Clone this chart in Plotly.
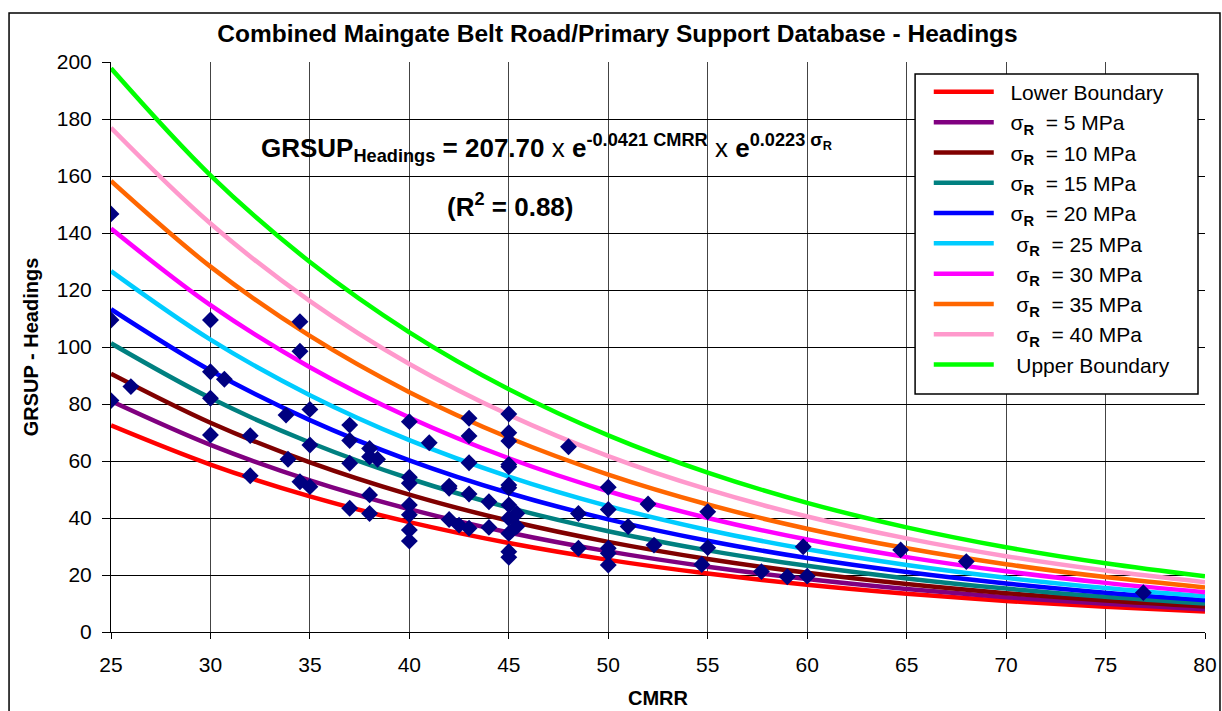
import plotly.graph_objects as go

# fitted curves (GRSUP vs CMRR for each sigma_R)
cmrr_curve = [25, 30, 35, 40, 45, 50, 55, 60, 65, 70, 75, 80]
lower_boundary = [72.50, 58.74, 47.59, 38.55, 31.23, 25.30, 20.50, 16.61, 13.46, 10.90, 8.83, 7.16]
sig_5 = [81.05, 65.67, 53.20, 43.10, 34.91, 28.28, 22.92, 18.57, 15.05, 12.19, 9.87, 8.00]
sig_10 = [90.61, 73.41, 59.48, 48.18, 39.03, 31.62, 25.62, 20.76, 16.82, 13.62, 11.04, 8.95]
sig_15 = [101.30, 82.07, 66.49, 53.86, 43.64, 35.35, 28.64, 23.21, 18.81, 15.23, 12.34, 10.00]
sig_20 = [113.25, 91.76, 74.34, 60.22, 48.78, 39.52, 32.02, 25.95, 21.03, 17.03, 13.79, 11.18]
sig_25 = [126.61, 102.58, 83.11, 67.32, 54.54, 44.18, 35.80, 29.01, 23.51, 19.03, 15.42, 12.50]
sig_30 = [141.54, 114.68, 92.91, 75.26, 60.97, 49.39, 40.02, 32.43, 26.28, 21.28, 17.24, 13.98]
sig_35 = [158.24, 128.20, 103.87, 84.14, 68.16, 55.22, 44.74, 36.25, 29.38, 23.79, 19.27, 15.63]
sig_40 = [176.90, 143.32, 116.12, 94.06, 76.20, 61.73, 50.02, 40.53, 32.84, 26.60, 21.55, 17.47]
upper_boundary = [197.77, 160.23, 129.82, 105.16, 85.19, 69.01, 55.92, 45.31, 36.72, 29.73, 24.09, 19.53]

# database points
cmrr_pts = [25, 25, 25, 26, 30, 30, 30, 30, 30.7, 32, 32, 33.8, 33.9, 34.5, 34.5, 34.5, 35, 35, 35,
            37, 37, 37, 37, 38, 38, 38, 38, 38.4, 40, 40, 40, 40, 40, 40, 40, 41, 42, 42, 42, 42.5,
            43, 43, 43, 43, 43, 44, 44, 45, 45, 45, 45, 45, 45, 45, 45, 45, 45, 45, 45, 45.4, 45.4,
            48, 48.5, 48.5, 50, 50, 50, 50, 50, 51, 52, 52.3, 54.7, 55, 55, 57.7, 59, 59.8, 60,
            64.7, 68, 76.9]
grsup_pts = [146.7, 109.5, 81.2, 86.1, 109.5, 91.3, 82.0, 69.1, 88.7, 68.9, 54.8, 76.1, 60.6, 108.9, 98.5, 52.7, 78.1, 65.6, 51.0,
             72.6, 67.2, 59.2, 43.4, 64.4, 61.5, 48.1, 41.6, 60.6, 73.8, 54.3, 52.2, 44.6, 41.1, 35.8, 31.9, 66.4, 51.2, 50.4, 39.5, 37.5,
             75.0, 68.8, 59.4, 48.4, 36.4, 45.7, 36.7, 76.5, 69.9, 67.0, 58.8, 58.0, 51.6, 50.6, 44.6, 39.9, 34.6, 28.2, 26.2, 41.6, 37.0,
             65.0, 41.6, 29.4, 50.8, 43.0, 29.4, 27.6, 23.5, 37.0, 44.9, 30.5, 23.7, 42.2, 29.6, 21.2, 19.4, 29.9, 19.6,
             28.8, 24.7, 13.8]

sr = "σ<sub><b>R</b></sub>"
curves = [
    ("  Lower Boundary", lower_boundary, "#ff0000"),
    ("  " + sr + "  = 5 MPa", sig_5, "#800080"),
    ("  " + sr + "  = 10 MPa", sig_10, "#800000"),
    ("  " + sr + "  = 15 MPa", sig_15, "#008080"),
    ("  " + sr + "  = 20 MPa", sig_20, "#0000ff"),
    ("   " + sr + "  = 25 MPa", sig_25, "#00ccff"),
    ("   " + sr + "  = 30 MPa", sig_30, "#ff00ff"),
    ("   " + sr + "  = 35 MPa", sig_35, "#ff6600"),
    ("   " + sr + "  = 40 MPa", sig_40, "#ff99cc"),
    ("   Upper Boundary", upper_boundary, "#00ff00"),
]

fig = go.Figure()

for i, (name, vals, col) in enumerate(curves):
    fig.add_trace(go.Scatter(
        x=cmrr_curve, y=vals, mode='lines', name=name,
        line=dict(color=col, width=4.5, shape='spline'),
        legendgroup=str(i)
    ))

fig.add_trace(go.Scatter(
    x=cmrr_pts, y=grsup_pts, mode='markers', showlegend=False,
    marker=dict(symbol='diamond', size=13, color='#000080')
))

fnt = "Arial, Liberation Sans, sans-serif"

fig.update_layout(
    width=1222, height=711,
    margin=dict(l=111, r=17, t=62, b=79),
    paper_bgcolor='white', plot_bgcolor='white',
    font=dict(family=fnt, color='black', size=21),
    title=dict(text="<b>Combined Maingate Belt Road/Primary Support Database - Headings</b>",
               x=0.5053, xanchor='center', y=0.953, yanchor='middle', font=dict(size=24.5)),
    showlegend=True,
    legend=dict(x=0.7475, y=0.983, xanchor='left', yanchor='top', bgcolor='rgba(0,0,0,0)',
                borderwidth=0, font=dict(size=21), itemwidth=60, tracegroupgap=0,
                traceorder='grouped'),
    xaxis=dict(range=[25, 80], tickvals=list(range(25, 81, 5)), showgrid=True,
               gridcolor='#444444', gridwidth=1, showline=True, linecolor='black', linewidth=1,
               ticks='outside', ticklen=6, tickcolor='black', ticklabelstandoff=8,
               zeroline=False, automargin=False,
               title=dict(text="<b>CMRR</b>", standoff=15, font=dict(size=20))),
    yaxis=dict(range=[0, 200], tickvals=list(range(0, 201, 20)), showgrid=True,
               gridcolor='black', gridwidth=1, showline=True, linecolor='black', linewidth=1,
               ticks='outside', ticklen=8, tickcolor='black', ticklabelstandoff=6,
               zeroline=False, automargin=False,
               title=dict(text="<b>GRSUP - Headings</b>", standoff=12, font=dict(size=20))),
    shapes=[
        dict(type='rect', xref='paper', yref='paper', x0=-0.0932, x1=1.0137, y0=-0.16, y1=1.086,
             line=dict(color='black', width=1.5), fillcolor='rgba(0,0,0,0)', layer='below'),
        dict(type='rect', xref='paper', yref='paper', x0=0.735, x1=0.9936, y0=0.4175, y1=0.979,
             line=dict(color='black', width=1.5), fillcolor='white', layer='above'),
    ],
    annotations=[
        dict(text="<b>GRSUP<sub>Headings</sub> = 207.70</b> x <b>e<sup>-0.0421 CMRR</sup></b> x <b>e<sup>0.0223 σ<sub>R</sub></sup></b>",
             xref='paper', yref='paper', x=0.398, y=0.85, xanchor='center', yanchor='middle',
             showarrow=False, font=dict(size=26)),
        dict(text="<b>(R<sup>2</sup> = 0.88)</b>", xref='paper', yref='paper', x=0.365, y=0.749,
             xanchor='center', yanchor='middle', showarrow=False, font=dict(size=26)),
    ],
)

fig.write_html("out.html", config=dict(displayModeBar=False),
               post_script="document.body.style.margin='0';document.body.style.overflow='hidden';")
